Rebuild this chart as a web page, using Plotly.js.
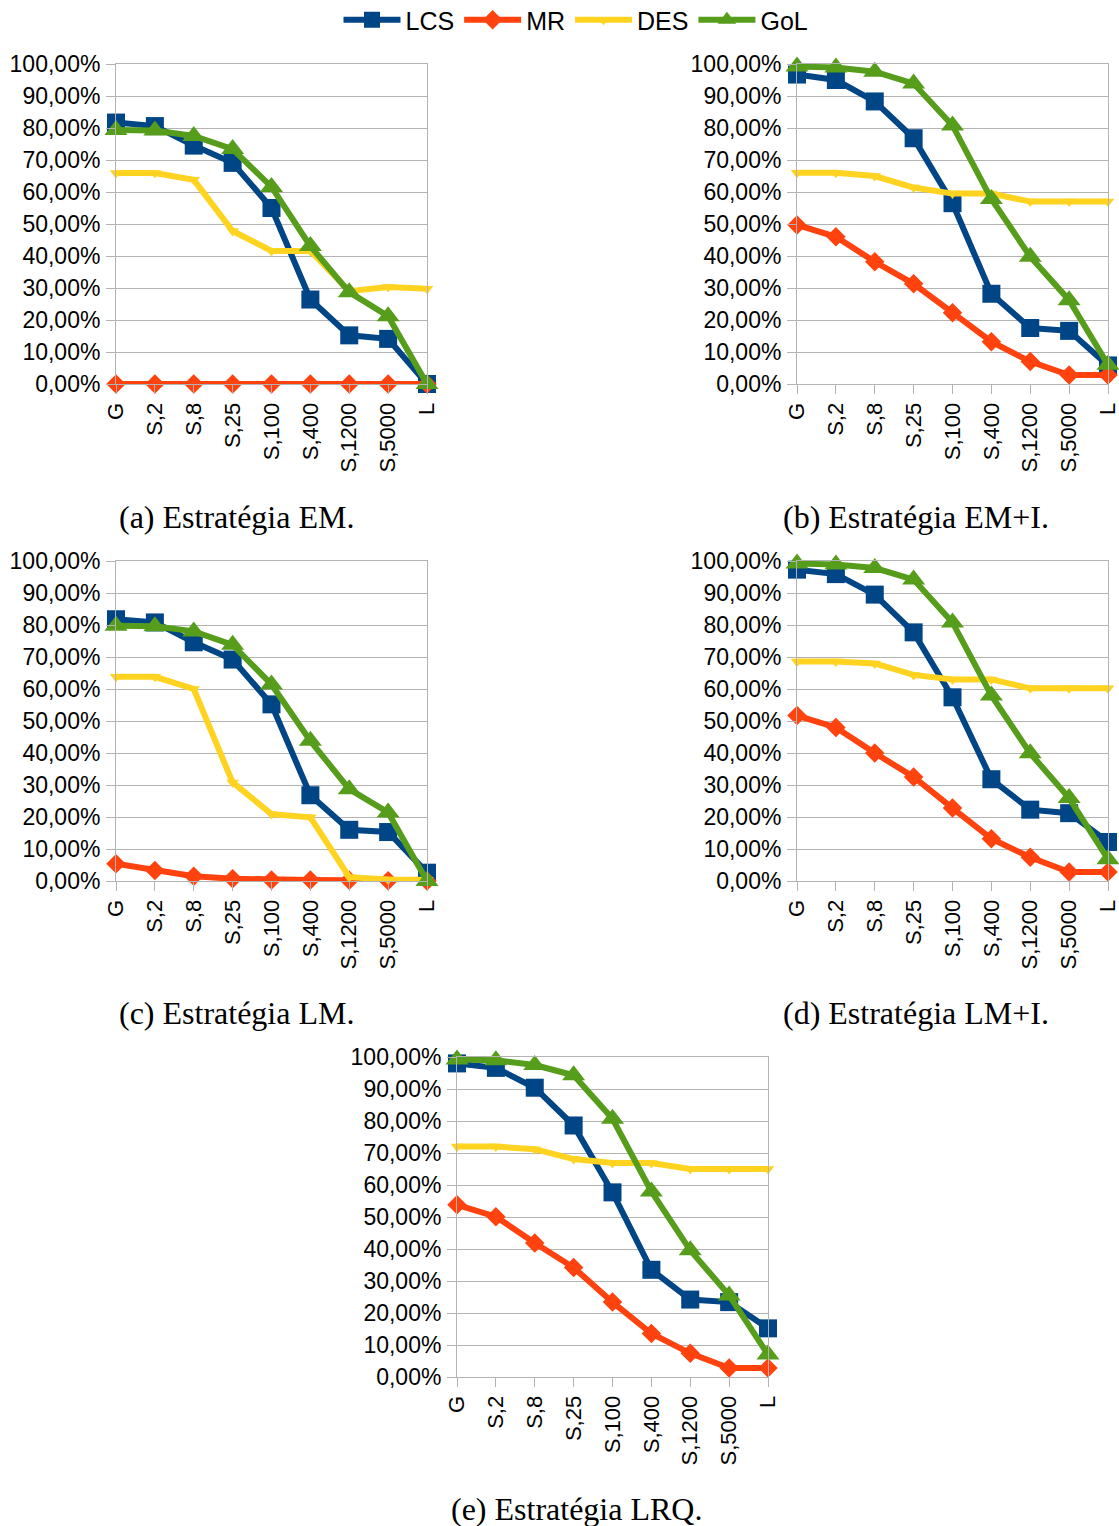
<!DOCTYPE html>
<html>
<head>
<meta charset="utf-8">
<script src="https://cdn.plot.ly/plotly-3.0.1.min.js"></script>
<style>html,body{margin:0;padding:0;background:#fff;}#chart{width:1119px;height:1526px;}</style>
</head>
<body>
<div id="chart"></div>
<script>
// Categories
const categories = ["G", "S,2", "S,8", "S,25", "S,100", "S,400", "S,1200", "S,5000", "L"];
const seriesNames = ["LCS", "MR", "DES", "GoL"];
const yTickVals = [0, 10, 20, 30, 40, 50, 60, 70, 80, 90, 100];
const yTickText = ["0,00%", "10,00%", "20,00%", "30,00%", "40,00%", "50,00%", "60,00%", "70,00%", "80,00%", "90,00%", "100,00%"];
const captions = ["(a) Estratégia EM.", "(b) Estratégia EM+I.", "(c) Estratégia LM.", "(d) Estratégia LM+I.", "(e) Estratégia LRQ."];

// (a) EM
const lcsEM = [81.7, 80.6, 74.5, 69.1, 55.0, 26.4, 15.2, 14.1, 0];
const mrEM  = [0, 0, 0, 0, 0, 0, 0, 0, 0];
const desEM = [65.9, 65.9, 63.8, 47.8, 41.6, 41.6, 29.0, 30.3, 29.8];
const golEM = [79.4, 79.2, 77.5, 73.4, 61.6, 43.1, 28.7, 21.2, 0];

// (b) EM+I
const lcsEMI = [96.7, 95.0, 88.3, 76.8, 56.5, 28.2, 17.5, 16.6, 5.8];
const mrEMI  = [49.7, 46.0, 38.2, 31.3, 22.3, 13.2, 7.0, 2.8, 2.8];
const desEMI = [66.0, 66.0, 65.0, 61.4, 59.5, 59.5, 57.0, 57.0, 57.0];
const golEMI = [99.2, 98.9, 97.6, 93.9, 80.8, 57.8, 39.8, 26.2, 6.0];

// (c) LM
const lcsLM = [81.8, 80.8, 74.6, 69.2, 55.2, 26.8, 16.0, 15.3, 2.6];
const mrLM  = [5.4, 3.3, 1.5, 0.7, 0.3, 0.3, 0.2, 0.1, 0];
const desLM = [63.8, 63.8, 60.0, 30.8, 20.9, 19.9, 1.2, 0.5, 0.4];
const golLM = [79.8, 79.6, 78.0, 73.8, 61.4, 43.8, 28.7, 21.4, 0];

// (d) LM+I
const lcsLMI = [97.3, 95.9, 89.5, 77.7, 57.4, 31.8, 22.3, 21.2, 12.2];
const mrLMI  = [51.7, 48.0, 40.0, 32.5, 22.8, 13.2, 7.4, 2.8, 2.8];
const desLMI = [68.6, 68.6, 68.0, 64.4, 63.0, 63.0, 60.2, 60.2, 60.2];
const golLMI = [99.2, 98.9, 97.8, 94.2, 80.8, 58.0, 39.9, 25.9, 6.8];

// (e) LRQ
const lcsLRQ = [98.0, 96.6, 90.4, 78.6, 57.7, 33.5, 24.2, 23.4, 15.2];
const mrLRQ  = [53.8, 50.1, 41.9, 34.2, 23.4, 13.6, 7.4, 2.8, 2.8];
const desLRQ = [72.0, 72.0, 71.2, 68.1, 66.9, 66.9, 65.0, 65.0, 65.0];
const golLRQ = [99.2, 99.0, 97.5, 94.3, 80.7, 58.0, 39.6, 25.5, 7.0];

const panels = [
  {lcs: lcsEM,  mr: mrEM,  des: desEM,  gol: golEM},
  {lcs: lcsEMI, mr: mrEMI, des: desEMI, gol: golEMI},
  {lcs: lcsLM,  mr: mrLM,  des: desLM,  gol: golLM},
  {lcs: lcsLMI, mr: mrLMI, des: desLMI, gol: golLMI},
  {lcs: lcsLRQ, mr: mrLRQ, des: desLRQ, gol: golLRQ}
];

const W = 1119, H = 1526;
// plot-area boxes in pixels: [left, right, top, bottom]
const boxes = [
  [116, 427, 64, 384],
  [797, 1108, 64, 384],
  [116, 427, 561, 881],
  [797, 1108, 561, 881],
  [457, 768, 1057, 1377]
];
const capPos = [[236, 517], [916, 517], [236, 1013], [916, 1013], [576, 1509]];

const styles = {
  LCS: {color: "#004586", symbol: "square", size: 18},
  MR:  {color: "#ff420e", symbol: "diamond", size: 15},
  DES: {color: "#ffd320", symbol: "triangle-down", size: 11},
  GoL: {color: "#579d1c", symbol: "triangle-up", size: 20}
};

const traces = [];
const layout = {
  width: W, height: H,
  margin: {l: 0, r: 0, t: 0, b: 0, autoexpand: false},
  paper_bgcolor: "#ffffff",
  plot_bgcolor: "#ffffff",
  font: {family: "Liberation Sans, Arial, sans-serif", size: 22, color: "#000"},
  showlegend: true,
  legend: {
    orientation: "h",
    x: 576 / W, xanchor: "center",
    y: 1 + 3 / H, yanchor: "top",
    font: {size: 25, family: "Liberation Sans, Arial, sans-serif"},
    itemwidth: 57,
    tracegroupgap: 0,
    bgcolor: "rgba(0,0,0,0)"
  },
  annotations: []
};

panels.forEach((p, i) => {
  const n = i === 0 ? "" : String(i + 1);
  const [l, r, t, b] = boxes[i];
  const vals = {LCS: p.lcs, MR: p.mr, DES: p.des, GoL: p.gol};
  seriesNames.forEach(name => {
    const s = styles[name];
    traces.push({
      type: "scatter", mode: "lines+markers",
      x: categories, y: vals[name],
      name: name,
      legendgroup: name,
      showlegend: i === 0,
      xaxis: "x" + n, yaxis: "y" + n,
      line: {color: s.color, width: 6},
      marker: {color: s.color, symbol: s.symbol, size: s.size},
      cliponaxis: false,
      hoverinfo: "skip"
    });
  });
  layout["xaxis" + n] = {
    domain: [l / W, r / W],
    anchor: "y" + n,
    type: "category",
    range: [0, categories.length - 1],
    tickangle: -90,
    ticks: "outside", ticklen: 9, tickcolor: "#b3b3b3", tickwidth: 1,
    showline: true, linecolor: "#b3b3b3", linewidth: 1, mirror: true,
    showgrid: false, zeroline: false,
    tickfont: {size: 22},
    automargin: false,
    fixedrange: true
  };
  layout["yaxis" + n] = {
    domain: [1 - b / H, 1 - t / H],
    anchor: "x" + n,
    range: [0, 100],
    tickmode: "array",
    tickvals: yTickVals,
    ticktext: yTickText,
    ticks: "outside", ticklen: 9, tickcolor: "#b3b3b3", tickwidth: 1,
    ticklabelstandoff: 1,
    showline: true, linecolor: "#b3b3b3", linewidth: 1, mirror: true,
    showgrid: true, gridcolor: "#b3b3b3", gridwidth: 1,
    zeroline: false,
    tickfont: {size: 23},
    automargin: false,
    fixedrange: true
  };
  layout.annotations.push({
    xref: "paper", yref: "paper",
    x: capPos[i][0] / W, y: 1 - capPos[i][1] / H,
    xanchor: "center", yanchor: "middle",
    text: captions[i], showarrow: false,
    font: {family: "Liberation Serif, Times New Roman, serif", size: 32, color: "#000"}
  });
});

Plotly.newPlot("chart", traces, layout, {staticPlot: true, displayModeBar: false});
</script>
</body>
</html>
